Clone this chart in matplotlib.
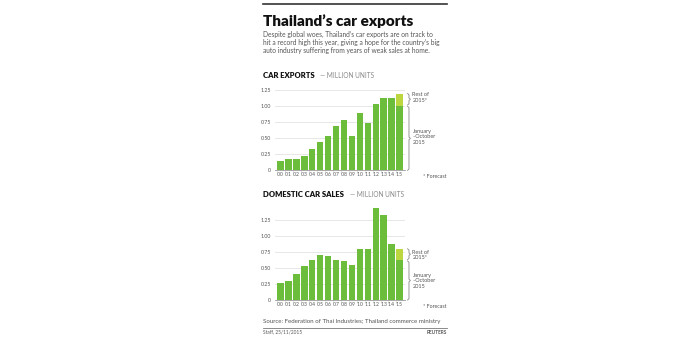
import matplotlib
matplotlib.use("Agg")
import matplotlib.pyplot as plt
from matplotlib.lines import Line2D

plt.rcParams["font.family"] = ["Lato", "DejaVu Sans"]

years = ["\u201900", "\u201901", "\u201902", "\u201903", "\u201904",
         "\u201905", "\u201906", "\u201907", "\u201908", "\u201909",
         "\u201910", "\u201911", "\u201912", "\u201913", "\u201914",
         "\u201915"]

# million units; the last value of each series is January-October 2015
exports = [0.15, 0.17, 0.18, 0.23, 0.33, 0.44, 0.54, 0.69,
           0.78, 0.54, 0.90, 0.74, 1.03, 1.13, 1.13, 1.01]
exports_rest_2015 = 0.19

domestic = [0.26, 0.29, 0.41, 0.53, 0.62, 0.70, 0.68, 0.63,
            0.61, 0.54, 0.80, 0.80, 1.44, 1.33, 0.88, 0.62]
domestic_rest_2015 = 0.18

y_ticks = [0, 0.25, 0.50, 0.75, 1.00, 1.25]
y_tick_labels = ["0", "0.25", "0.50", "0.75", "1.00", "1.25"]

GREEN = "#6cbd3c"
LIGHT_GREEN = "#bcd63f"
GREY_TEXT = "#555555"

W, H = 692, 338
fig = plt.figure(figsize=(W / 100, H / 100), dpi=100)
fig.patch.set_facecolor("white")


def fx(px):
    return px / W


def fy(py):
    return 1 - py / H


def brace(ax, x, y0, y1):
    # a flat curly bracket: stubs to the left at the ends, point to the right
    mid = (y0 + y1) / 2
    d = 0.18
    ax.plot([x - d, x, x, x + d, x, x, x - d],
            [y0, y0 + 0.02, mid - 0.02, mid, mid + 0.02, y1 - 0.02, y1],
            color="#888888", lw=0.6, clip_on=False)


def draw_panel(ax, values, rest, ymax, rest_y, jan_y):
    xs = range(len(values))
    ax.bar(xs, values, width=0.83, color=GREEN, zorder=2)
    ax.bar([len(values) - 1], [rest], bottom=[values[-1]], width=0.83,
           color=LIGHT_GREEN, zorder=2)
    ax.set_xlim(-0.67, 15.67)
    ax.set_ylim(0, ymax)
    ax.set_yticks(y_ticks)
    ax.set_yticklabels(y_tick_labels)
    ax.set_xticks(list(xs))
    ax.set_xticklabels(years)
    ax.tick_params(axis="y", length=0, pad=3, labelsize=3.8,
                   labelcolor=GREY_TEXT)
    ax.tick_params(axis="x", length=0, pad=1.5, labelsize=3.6,
                   labelcolor=GREY_TEXT)
    for s in ["top", "right", "left"]:
        ax.spines[s].set_visible(False)
    ax.spines["bottom"].set_color("#999999")
    ax.spines["bottom"].set_linewidth(0.6)
    ax.grid(axis="y", color="#dddddd", lw=0.5, zorder=0)
    ax.set_axisbelow(True)
    ax.set_facecolor("white")

    top = values[-1] + rest
    brace(ax, 16.17, values[-1] + 0.01, top)
    brace(ax, 16.17, 0, values[-1] - 0.01)
    ax.text(16.6, rest_y, "Rest of\n2015*", fontsize=4, color=GREY_TEXT,
            va="center", ha="left", linespacing=1.1)
    ax.text(16.6, jan_y, "January\n\u2013October\n2015", fontsize=4,
            color=GREY_TEXT, va="center", ha="left", linespacing=1.1)


# car exports panel
ax1 = fig.add_axes([fx(275), fy(170.3), fx(130), 83.2 / H])
draw_panel(ax1, exports, exports_rest_2015, 1.3, 1.14, 0.525)

# domestic sales panel
ax2 = fig.add_axes([fx(275), fy(300), fx(130), 96 / H])
draw_panel(ax2, domestic, domestic_rest_2015, 1.5, 0.70, 0.30)

# header
fig.add_artist(Line2D([fx(263), fx(447)], [fy(4), fy(4)], color="#333333",
                      lw=1.2))
fig.text(fx(263), fy(25.5), "Thailand\u2019s car exports", fontsize=11,
         fontweight="heavy", color="#111111", va="baseline")
subtitle = ("Despite global woes, Thailand\u2019s car exports are on track to\n"
            "hit a record high this year, giving a hope for the country\u2019s big\n"
            "auto industry suffering from years of weak sales at home.")
fig.text(fx(263), fy(31), subtitle, fontsize=4.8, color=GREY_TEXT,
         va="top", linespacing=1.15)

# panel titles
fig.text(fx(263), fy(75), "CAR EXPORTS", fontsize=5.5, fontweight="heavy",
         color="#111111", va="center")
fig.text(fx(320), fy(75), "\u2014 MILLION UNITS", fontsize=4.7,
         color="#888888", va="center")
fig.text(fx(263), fy(195), "DOMESTIC CAR SALES", fontsize=5.5,
         fontweight="heavy", color="#111111", va="center")
fig.text(fx(350), fy(195), "\u2014 MILLION UNITS", fontsize=4.7,
         color="#888888", va="center")

fig.text(fx(423), fy(176), "* Forecast", fontsize=3.8, color=GREY_TEXT,
         va="center")
fig.text(fx(423), fy(306), "* Forecast", fontsize=3.8, color=GREY_TEXT,
         va="center")

# footer
fig.text(fx(263), fy(322), "Source: Federation of Thai Industries; "
         "Thailand commerce ministry", fontsize=4.4, color=GREY_TEXT,
         va="center")
fig.add_artist(Line2D([fx(263), fx(447)], [fy(327.5), fy(327.5)],
                      color="#777777", lw=0.6))
fig.text(fx(263), fy(332), "Staff, 25/11/2015", fontsize=3.4,
         color=GREY_TEXT, va="center")
fig.text(fx(447), fy(332), "REUTERS", fontsize=3.4, fontweight="bold",
         color=GREY_TEXT, va="center", ha="right")

fig.savefig("out.png", dpi=100, facecolor="white")
